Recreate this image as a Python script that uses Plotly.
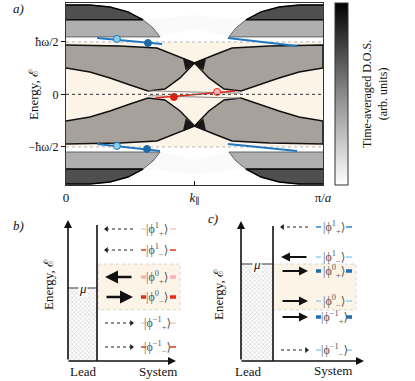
import plotly.graph_objects as go

# ---------------- Panel a data (k in units of pi/a, energy in units of hbar*omega) ----------------
E_TICKS = [-0.5, 0.0, 0.5]
E_TICK_TEXT = ["−ħω/2", "0", "ħω/2"]
K_TICKS = [0.0, 0.5, 1.0]
K_TICK_TEXT = ["0", "<i>k</i><sub>∥</sub>", "π/<i>a</i>"]
E_VIEW = [-0.862, 0.871]
ZONE_EDGES = [-0.5, 0.5]

# central Floquet band (upper copy), left half; right half is mirror k -> 1-k, lower copy e -> -e
MID_TOP_K = [0.0, 0.21, 0.354, 0.424, 0.5]
MID_TOP_E = [0.471, 0.462, 0.443, 0.376, 0.300]
MID_BOT_K = [0.0, 0.093, 0.171, 0.249, 0.319, 0.385, 0.444, 0.5]
MID_BOT_E = [0.252, 0.214, 0.157, 0.090, 0.033, 0.052, 0.157, 0.300]
MID_CORE_K = [0.455, 0.5, 0.465]
MID_CORE_E = [0.345, 0.300, 0.235]
# replica bands (+1 / -1 zones), left part
SIDE_TOP_K = [0.0, 0.093, 0.171, 0.241, 0.300, 0.339, 0.366]
SIDE_TOP_E = [0.852, 0.852, 0.833, 0.786, 0.710, 0.633, 0.548]
SIDE_BOT_E = 0.548
SIDE_DENSE_E = 0.71
FAINT_K = [0.30, 0.5, 0.70, 0.634, 0.5, 0.366]
FAINT_E = [0.71, 0.757, 0.71, 0.548, 0.62, 0.548]
EDGE_A_K = [0.32, 0.68]
EDGE_A_E = [0.035, 0.012]
EDGE_B_K = [0.32, 0.68]
EDGE_B_E = [-0.012, -0.035]

BLUE_SEG_K = [[0.121, 0.374], [0.630, 0.899], [0.121, 0.366], [0.630, 0.899]]
BLUE_SEG_E = [[0.538, 0.481], [0.538, 0.462], [-0.471, -0.538], [-0.471, -0.538]]
BLUE_LIGHT_K = [0.198, 0.198]
BLUE_LIGHT_E = [0.529, -0.490]
BLUE_DARK_K = [0.319, 0.315]
BLUE_DARK_E = [0.490, -0.519]
RED_K = [0.346, 0.658]
RED_E = [-0.033, 0.033]
RED_DOT_K, RED_DOT_E = [0.420], [-0.024]
PINK_DOT_K, PINK_DOT_E = [0.588], [0.024]
DOS_RANGE = [0, 1]

# ---------------- Panels b, c data ----------------
STATES = ["|ϕ<sup>1</sup><sub>+</sub>⟩", "|ϕ<sup>1</sup><sub>−</sub>⟩",
          "|ϕ<sup>0</sup><sub>+</sub>⟩", "|ϕ<sup>0</sup><sub>−</sub>⟩",
          "|ϕ<sup>−1</sup><sub>+</sub>⟩", "|ϕ<sup>−1</sup><sub>−</sub>⟩"]
B_ARROW_KIND = ["dot", "dot", "thick", "thick", "dot", "dot"]
B_ARROW_DIR = [-1, -1, -1, 1, 1, 1]
C_ARROW_KIND = ["dot", "solid", "solid", "solid", "solid", "dot"]
C_ARROW_DIR = [-1, -1, 1, 1, 1, 1]
B_DASH_COLOR = ["#f8cccc", "#e8442e", "#f6b5b5", "#e8291c", "#f8cccc", "#e8442e"]
B_DASH_THICK = [False, False, True, True, False, False]
C_DASH_COLOR = ["#3c8ed0", "#9bd3f0", "#1f6fb0", "#9bd3f0", "#1f6fb0", "#9bd3f0"]
C_DASH_THICK = [False, False, True, False, True, False]

W, H = 415, 381
FONT = "Liberation Serif, DejaVu Serif, serif"
BEIGE = "#fdf4e8"

fig = go.Figure()


def mirror(ks):
    return [1.0 - k for k in ks]


def add_poly(ks, es, **kw):
    fig.add_trace(go.Scatter(x=ks, y=es, mode="lines", fill="toself", hoverinfo="skip",
                             showlegend=False, xaxis="x", yaxis="y", **kw))


# central bands
tk = MID_TOP_K + mirror(MID_TOP_K[-2::-1])
te = MID_TOP_E + MID_TOP_E[-2::-1]
bk = MID_BOT_K + mirror(MID_BOT_K[-2::-1])
be = MID_BOT_E + MID_BOT_E[-2::-1]
for s in (1, -1):
    add_poly(tk + bk[::-1], [s * e for e in te + be[::-1]],
             line=dict(color="#111", width=1.5),
             fillpattern=dict(shape="-", bgcolor="#c4bfb8", fgcolor="#2a2520", size=2, solidity=0.4))
    for ks in (MID_CORE_K, mirror(MID_CORE_K)):
        add_poly(ks, [s * e for e in MID_CORE_E], line=dict(color="#111", width=1),
                 fillcolor="#1a1714")

# replica bands
for s in (1, -1):
    add_poly(FAINT_K, [s * e for e in FAINT_E], line=dict(width=0), fillcolor="rgba(0,0,0,0.02)")
    for ks in (SIDE_TOP_K, mirror(SIDE_TOP_K)):
        add_poly(ks + [ks[0]], [s * e for e in SIDE_TOP_E + [SIDE_BOT_E]],
                 line=dict(color="#666", width=1),
                 fillpattern=dict(shape="-", bgcolor="#cfcfcf", fgcolor="#2c2c2c", size=2, solidity=0.4))
        add_poly(ks[:5] + [ks[0]], [s * e for e in SIDE_TOP_E[:5] + [SIDE_DENSE_E]],
                 line=dict(color="#000", width=1.4),
                 fillpattern=dict(shape="-", bgcolor="#6a6a6a", fgcolor="#000", size=2, solidity=0.5))

for ks, es in ((EDGE_A_K, EDGE_A_E), (EDGE_B_K, EDGE_B_E)):
    fig.add_trace(go.Scatter(x=ks, y=es, mode="lines", line=dict(color="#888", width=1),
                             hoverinfo="skip", showlegend=False))

for ks, es in zip(BLUE_SEG_K, BLUE_SEG_E):
    fig.add_trace(go.Scatter(x=ks, y=es, mode="lines", line=dict(color="#1f78c0", width=2),
                             hoverinfo="skip", showlegend=False))
fig.add_trace(go.Scatter(x=BLUE_LIGHT_K, y=BLUE_LIGHT_E, mode="markers",
                         marker=dict(size=7, color="#8fd0ee", line=dict(color="#1f78c0", width=1)),
                         showlegend=False, hoverinfo="skip"))
fig.add_trace(go.Scatter(x=BLUE_DARK_K, y=BLUE_DARK_E, mode="markers",
                         marker=dict(size=7, color="#1a6aa8", line=dict(color="#1a6aa8", width=1)),
                         showlegend=False, hoverinfo="skip"))
fig.add_trace(go.Scatter(x=RED_K, y=RED_E, mode="lines", line=dict(color="#e8291c", width=1.6),
                         showlegend=False, hoverinfo="skip"))
fig.add_trace(go.Scatter(x=RED_DOT_K, y=RED_DOT_E, mode="markers",
                         marker=dict(size=7, color="#e01e10", line=dict(color="#e01e10", width=1)),
                         showlegend=False, hoverinfo="skip"))
fig.add_trace(go.Scatter(x=PINK_DOT_K, y=PINK_DOT_E, mode="markers",
                         marker=dict(size=7, color="#f7b7b3", line=dict(color="#e8291c", width=1)),
                         showlegend=False, hoverinfo="skip"))

# colorbar carrier
fig.add_trace(go.Scatter(x=[-5, -5], y=[0, 0], mode="markers", showlegend=False, hoverinfo="skip",
                         marker=dict(color=DOS_RANGE, cmin=DOS_RANGE[0], cmax=DOS_RANGE[1], size=1,
                                     colorscale=[[0, "#ffffff"], [0.5, "#8a8a8a"], [1, "#000000"]],
                                     showscale=True,
                                     colorbar=dict(x=335 / W, xanchor="left", y=1 - 94 / H, yanchor="middle",
                                                   lenmode="pixels", len=182, thickness=13, xpad=0, ypad=0,
                                                   outlinewidth=1, outlinecolor="#333",
                                                   showticklabels=False, ticks=""))))

shapes = []
shapes.append(dict(type="rect", xref="x", yref="y", x0=0, x1=1, y0=ZONE_EDGES[0], y1=ZONE_EDGES[1],
                   fillcolor=BEIGE, line=dict(width=0), layer="below"))
for e in ZONE_EDGES:
    shapes.append(dict(type="line", xref="x", yref="y", x0=0, x1=1, y0=e, y1=e,
                       line=dict(color="#b5b5b5", width=1, dash="dot"), layer="below"))
shapes.append(dict(type="line", xref="x", yref="y", x0=0, x1=1, y0=0, y1=0,
                   line=dict(color="#555", width=1.2, dash="dot")))

annotations = []


def txt(x, y, s, size=12, ref=("paper", "paper"), **kw):
    annotations.append(dict(x=x, y=y, xref=ref[0], yref=ref[1], text=s, showarrow=False,
                            xanchor="center", yanchor="middle",
                            font=dict(family=FONT, size=size, color=kw.pop("color", "#111")), **kw))


txt(18 / W, 1 - 9 / H, "<i>a)</i>", 13)
txt(33 / W, 1 - 95 / H, "Energy, ℰ", 13, textangle=-90)
txt(375 / W, 1 - 94 / H, "Time-averaged D.O.S.<br>(arb. units)", 12, textangle=-90)

# ---------------- schematic panels (pixel coordinates on hidden axes) ----------------
P = ("x2", "y2")


def schematic(ax, sys_x, top, xend, mu, beige, rows, lab_x, dl, dr, arr, kinds, dirs, colors, thick,
              energy_pos, lead_pos, sys_pos, tag_pos, tag, sys_top):
    base = 361
    shapes.append(dict(type="rect", xref="x2", yref="y2", x0=beige[0], x1=beige[1], y0=beige[2], y1=beige[3],
                       fillcolor=BEIGE, line=dict(color="rgba(0,0,0,0.18)", width=0.8, dash="dot")))
    fig.add_trace(go.Scatter(x=[ax, sys_x, sys_x, ax, ax], y=[base, base, mu, mu, base], xaxis="x2", yaxis="y2",
                             mode="lines", fill="toself", line=dict(width=0), hoverinfo="skip", showlegend=False,
                             fillpattern=dict(shape="x", bgcolor="#ffffff", fgcolor="#8a8a8a", size=3,
                                              solidity=0.3)))
    shapes.append(dict(type="line", xref="x2", yref="y2", x0=ax, x1=sys_x, y0=mu, y1=mu,
                       line=dict(color="#777", width=1.5)))
    shapes.append(dict(type="line", xref="x2", yref="y2", x0=sys_x, x1=sys_x, y0=base, y1=sys_top,
                       line=dict(color="#111", width=1.6)))
    txt((ax + sys_x) / 2, mu, "<i>μ</i>", 13, P, bgcolor="#ffffff", borderpad=0)
    annotations.append(dict(x=ax, y=top, ax=ax, ay=base, xref="x2", yref="y2", axref="x2", ayref="y2",
                            text="", showarrow=True, arrowhead=2, arrowsize=1, arrowwidth=1.6,
                            arrowcolor="#111"))
    annotations.append(dict(x=xend, y=base, ax=ax - 1, ay=base, xref="x2", yref="y2", axref="x2", ayref="y2",
                            text="", showarrow=True, arrowhead=2, arrowsize=1, arrowwidth=1.6,
                            arrowcolor="#111"))
    for y, s, k, d, c, t in zip(rows, STATES, kinds, dirs, colors, thick):
        txt(lab_x, y, s, 12, P, color="#555")
        for x0, x1 in (dl, dr):
            shapes.append(dict(type="line", xref="x2", yref="y2", x0=x0, x1=x1, y0=y, y1=y,
                               line=dict(color=c, width=3.5 if t else 1.6)))
        tip, tail = (arr[0], arr[1]) if d < 0 else (arr[1], arr[0])
        if k == "dot":
            fig.add_trace(go.Scatter(x=[tail, tip - 2 * d], y=[y, y], xaxis="x2", yaxis="y2", mode="lines",
                                     line=dict(color="#222", width=1, dash="dot"), hoverinfo="skip",
                                     showlegend=False))
            fig.add_trace(go.Scatter(x=[tip - 1.5 * d], y=[y], xaxis="x2", yaxis="y2", mode="markers",
                                     marker=dict(symbol="triangle-left" if d < 0 else "triangle-right",
                                                 size=5, color="#222"),
                                     hoverinfo="skip", showlegend=False))
        else:
            annotations.append(dict(x=tip, y=y, ax=tail, ay=y, xref="x2", yref="y2", axref="x2",
                                    ayref="y2", text="", showarrow=True, arrowhead=2, arrowsize=1,
                                    arrowwidth=2.6 if k == "thick" else 1.8, arrowcolor="#111"))
    txt(energy_pos[0], energy_pos[1], "Energy, ℰ", 13, P, textangle=-90)
    txt(lead_pos[0], lead_pos[1], "Lead", 13, P)
    txt(sys_pos[0], sys_pos[1], "System", 13, P)
    txt(tag_pos[0], tag_pos[1], "<i>%s</i>" % tag, 13, P)


schematic(68, 97, 220, 176, 288, (98, 180, 264, 310), [229, 250, 277, 297, 323, 347], 157,
          (141, 146), (170, 176), (105, 133), B_ARROW_KIND, B_ARROW_DIR, B_DASH_COLOR, B_DASH_THICK,
          (48, 285), (83, 371), (158, 371), (18, 225), "b)", 225)
schematic(241, 273, 221, 364, 264, (273, 356, 264, 310), [227, 257, 271, 301, 317, 350], 334,
          (316, 321), (346, 352), (281, 308), C_ARROW_KIND, C_ARROW_DIR, C_DASH_COLOR, C_DASH_THICK,
          (218, 295), (248, 371), (333, 370), (213, 218), "c)", 226)

fig.update_layout(
    width=W, height=H, margin=dict(l=0, r=0, t=0, b=0, autoexpand=False),
    paper_bgcolor="#ffffff", plot_bgcolor="rgba(0,0,0,0)",
    font=dict(family=FONT, size=12, color="#111"),
    shapes=shapes, annotations=annotations, showlegend=False,
    xaxis=dict(domain=[66 / W, 323 / W], range=[0, 1], tickvals=K_TICKS, ticktext=K_TICK_TEXT,
               ticks="inside", ticklen=4, tickcolor="#111", showline=True, mirror=True, linecolor="#333",
               linewidth=1, showgrid=False, zeroline=False, tickfont=dict(size=13), automargin=False),
    yaxis=dict(domain=[1 - 185 / H, 1 - 3 / H], range=E_VIEW, tickvals=E_TICKS, ticktext=E_TICK_TEXT,
               ticks="outside", ticklen=4, tickcolor="#111", showline=True, mirror=True, linecolor="#333",
               linewidth=1, showgrid=False, zeroline=False, tickfont=dict(size=12), automargin=False),
    xaxis2=dict(domain=[0, 1], range=[0, W], visible=False, anchor="y2"),
    yaxis2=dict(domain=[0, 1 - 200 / H], range=[H, 200], visible=False, anchor="x2"),
)

fig.write_html("out.html", config={"displayModeBar": False},
               post_script="document.body.style.margin='0px';document.body.style.padding='0px';")
